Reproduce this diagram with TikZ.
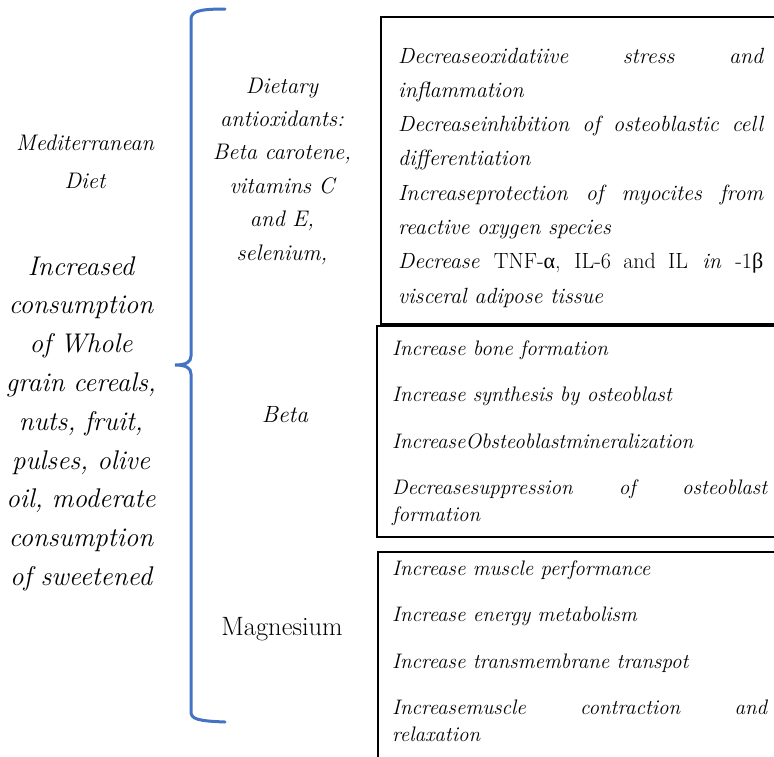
\documentclass[tikz,border=0pt]{standalone}
\usepackage{fontspec}
\newfontfamily\grk{Liberation Serif}
\definecolor{braceblue}{RGB}{68,114,196}
\hyphenpenalty=10000
\exhyphenpenalty=10000

\begin{document}
\begin{tikzpicture}[x=1pt, y=-1pt,
    brace/.style={line width=3pt, braceblue, line cap=round},
    panel/.style={draw, line width=1.8pt},
    sidetext/.style={anchor=base, align=center, inner sep=0pt},
    listtext/.style={anchor=base west, align=justify, inner sep=0pt}]
        \useasboundingbox (0,0) rectangle (774,756);
        \clip (0,0) rectangle (774,756);

        % Left column
        \node[sidetext, text width=175pt, font=\fontsize{22.5}{38}\selectfont\itshape] (med) at (85,150) {Mediterranean\\ Diet};
        \node[sidetext, text width=175pt, font=\fontsize{27}{38.8}\selectfont\itshape] (incr) at (81,275) {Increased\\ consumption\\ of Whole\\ grain cereals,\\ nuts, fruit,\\ pulses, olive\\ oil, moderate\\ consumption\\ of sweetened};

        % Brace
        \draw[brace] (225,9) .. controls (196,9) and (191,12) .. (191,20) -- (191,356)
            .. controls (191,362) and (186,365) .. (175,365)
            .. controls (186,365) and (191,368) .. (191,374) -- (191,712)
            .. controls (191,719) and (198,721) .. (225,722);

        % Middle column
        \node[sidetext, text width=175pt, font=\fontsize{22.5}{33.4}\selectfont\itshape] (antiox) at (282,93) {Dietary\\ antioxidants:\\ Beta carotene,\\ vitamins C\\ and E,\\ selenium,};
        \node[sidetext, font=\fontsize{23.5}{27}\selectfont\itshape] (beta) at (285,422) {Beta};
        \node[sidetext, font=\fontsize{26.5}{30}\selectfont] (magn) at (282,635) {Magnesium};

        % Effect boxes
        \draw[panel] (381,17) rectangle (790,324);
        \draw[panel] (377,326) rectangle (790,537);
        \draw[panel] (378,552) rectangle (790,780);

        \node[listtext, text width=365pt, font=\fontsize{22}{34.3}\selectfont\itshape] (antioxlist) at (398,63) {Decreaseoxidatiive stress and\linebreak inflammation\\ Decreaseinhibition of osteoblastic cell\linebreak differentiation\\ Increaseprotection of myocites from\linebreak reactive oxygen species\\ Decrease {\upshape TNF-{\grk α}, IL-6 and IL} in {\upshape -1{\grk β}}\linebreak visceral adipose tissue};
        \node[listtext, text width=375pt, font=\fontsize{21}{27}\selectfont\itshape] (betalist) at (392,355) {Increase bone formation\\[19.5pt] Increase synthesis by osteoblast\\[19.5pt] IncreaseObsteoblastmineralization\\[19.5pt] Decreasesuppression of osteoblast\linebreak formation};
        \node[listtext, text width=375pt, font=\fontsize{21}{27}\selectfont\itshape] (magnlist) at (392,575) {Increase muscle performance\\[19.5pt] Increase energy metabolism\\[19.5pt] Increase transmembrane transpot\\[19.5pt] Increasemuscle contraction and\linebreak relaxation};
\end{tikzpicture}
\end{document}
